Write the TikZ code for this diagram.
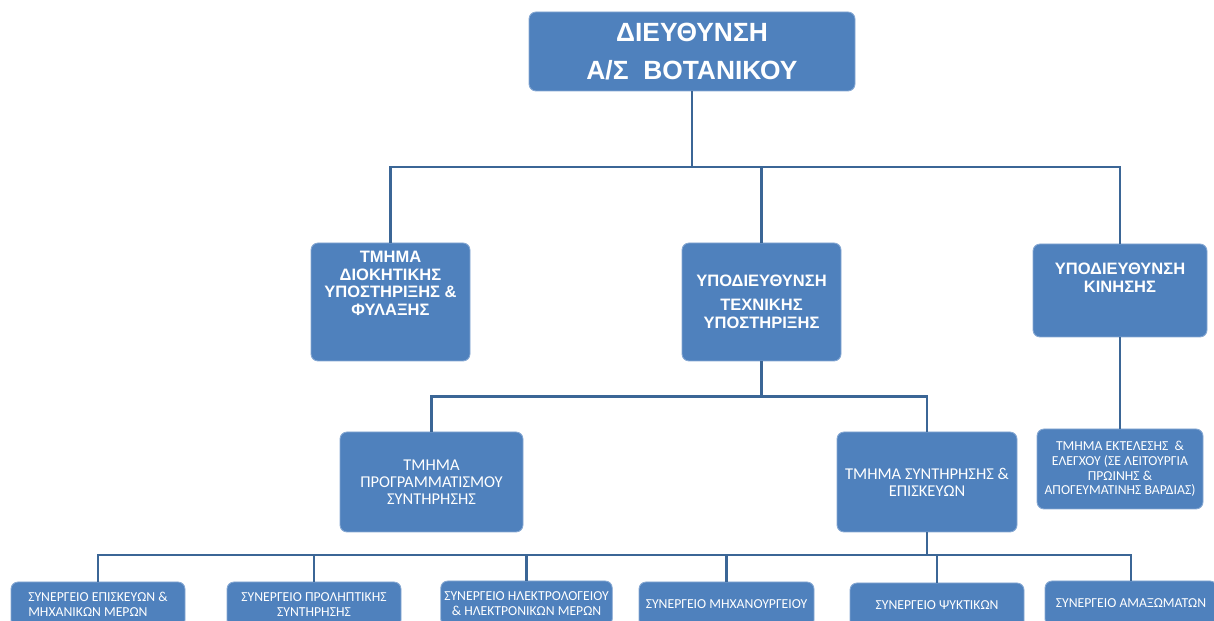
\documentclass[tikz,border=0pt]{standalone}
\usepackage{fontspec}
\setsansfont{Liberation Sans}
\newfontfamily\calibrifont{Carlito}
\usepackage{tikz}
\usetikzlibrary{positioning}
\definecolor{boxblue}{HTML}{4F81BD}
\definecolor{edgeblue}{HTML}{86A8D3}
\definecolor{linkblue}{HTML}{3B6696}

\tikzset{
  unit/.style={fill=boxblue, draw=edgeblue, line width=0.5pt, rounded corners=4pt, text=white, align=center, inner sep=2pt},
  headfont/.style={font=\sffamily\bfseries\fontsize{9.4}{10}\selectfont},
  bodyfont/.style={font=\calibrifont\fontsize{9.4}{9.8}\selectfont},
  smallfont/.style={font=\calibrifont\fontsize{7.8}{8.4}\selectfont},
  headtext/.style={headfont, text=white, align=center, inner sep=0pt},
  link/.style={linkblue, line width=1.6pt},
}

\begin{document}
\begin{tikzpicture}
  \useasboundingbox (0,0) rectangle (24.28,12.42);
  \clip (0,0) rectangle (24.28,12.42);

  % Direction at the top
  \node[unit, minimum width=6.52cm, minimum height=1.58cm, font=\sffamily\bfseries\fontsize{15}{21.5}\selectfont] (dir) at (13.84,11.39) {ΔΙΕΥΘΥΝΣΗ\\Α/Σ\ \ ΒΟΤΑΝΙΚΟΥ};

  % Second level
  \node[unit, minimum width=3.18cm, minimum height=2.36cm] (admin) at (7.81,6.38) {};
  \node[headtext, below=0.17cm of admin.north] (admintext) {ΤΜΗΜΑ\\ΔΙΟΚΗΤΙΚΗΣ\\ΥΠΟΣΤΗΡΙΞΗΣ \&\\ΦΥΛΑΞΗΣ};
  \node[unit, headfont, minimum width=3.18cm, minimum height=2.36cm] (tech) at (15.23,6.38) {ΥΠΟΔΙΕΥΘΥΝΣΗ\\[3.6pt]ΤΕΧΝΙΚΗΣ\\ΥΠΟΣΤΗΡΙΞΗΣ};
  \node[unit, minimum width=3.48cm, minimum height=1.86cm] (kin) at (22.40,6.61) {};
  \node[headtext, below=0.38cm of kin.north] (kintext) {ΥΠΟΔΙΕΥΘΥΝΣΗ\\ΚΙΝΗΣΗΣ};

  % Third level
  \node[unit, bodyfont, minimum width=3.66cm, minimum height=2cm] (prog) at (8.63,2.78) {ΤΜΗΜΑ\\ΠΡΟΓΡΑΜΜΑΤΙΣΜΟΥ\\ΣΥΝΤΗΡΗΣΗΣ};
  \node[unit, bodyfont, minimum width=3.6cm, minimum height=2cm] (maint) at (18.54,2.78) {ΤΜΗΜΑ ΣΥΝΤΗΡΗΣΗΣ \&\\ΕΠΙΣΚΕΥΩΝ};
  \node[unit, smallfont, minimum width=3.32cm, minimum height=1.6cm] (exec) at (22.40,3.04) {ΤΜΗΜΑ ΕΚΤΕΛΕΣΗΣ\ \ \&\\ΕΛΕΓΧΟΥ (ΣΕ ΛΕΙΤΟΥΡΓΙΑ\\ΠΡΩΙΝΗΣ \&\\ΑΠΟΓΕΥΜΑΤΙΝΗΣ ΒΑΡΔΙΑΣ)};

  % Workshops (cut by the page bottom)
  \node[unit, smallfont, minimum width=3.48cm, minimum height=0.9cm, align=left] (shop1) at (1.96,0.33) {ΣΥΝΕΡΓΕΙΟ ΕΠΙΣΚΕΥΩΝ \&\\ΜΗΧΑΝΙΚΩΝ ΜΕΡΩΝ};
  \node[unit, smallfont, minimum width=3.48cm, minimum height=0.9cm] (shop2) at (6.28,0.33) {ΣΥΝΕΡΓΕΙΟ ΠΡΟΛΗΠΤΙΚΗΣ\\ΣΥΝΤΗΡΗΣΗΣ};
  \node[unit, smallfont, minimum width=3.42cm, minimum height=0.9cm] (shop3) at (10.53,0.35) {ΣΥΝΕΡΓΕΙΟ ΗΛΕΚΤΡΟΛΟΓΕΙΟΥ\\\& ΗΛΕΚΤΡΟΝΙΚΩΝ ΜΕΡΩΝ};
  \node[unit, smallfont, minimum width=3.5cm, minimum height=0.9cm] (shop4) at (14.53,0.33) {ΣΥΝΕΡΓΕΙΟ ΜΗΧΑΝΟΥΡΓΕΙΟΥ};
  \node[unit, smallfont, minimum width=3.48cm, minimum height=0.9cm] (shop5) at (18.74,0.31) {ΣΥΝΕΡΓΕΙΟ ΨΥΚΤΙΚΩΝ};
  \node[unit, smallfont, minimum width=3.44cm, minimum height=0.9cm] (shop6) at (22.62,0.35) {ΣΥΝΕΡΓΕΙΟ ΑΜΑΞΩΜΑΤΩΝ};

  % Connectors
  \coordinate (bus1) at (13.84,9.08);
  \draw[link] (dir.south) -- (bus1);
  \draw[link] (admin.north) |- (bus1) -| (kin.north);
  \draw[link] (tech.north) -- (tech.north |- bus1);

  \coordinate (bus2) at (15.23,4.49);
  \draw[link] (tech.south) -- (bus2);
  \draw[link] (prog.north) |- (bus2) -| (maint.north);
  \draw[link] (kin.south) -- (exec.north);

  \coordinate (bus3) at (18.54,1.32);
  \draw[link] (maint.south) -- (bus3);
  \draw[link] (shop1.north) |- (bus3) -| (shop6.north);
  \foreach \s in {shop2,shop3,shop4,shop5}
    \draw[link] (\s.north) -- (\s.north |- bus3);
\end{tikzpicture}
\end{document}
